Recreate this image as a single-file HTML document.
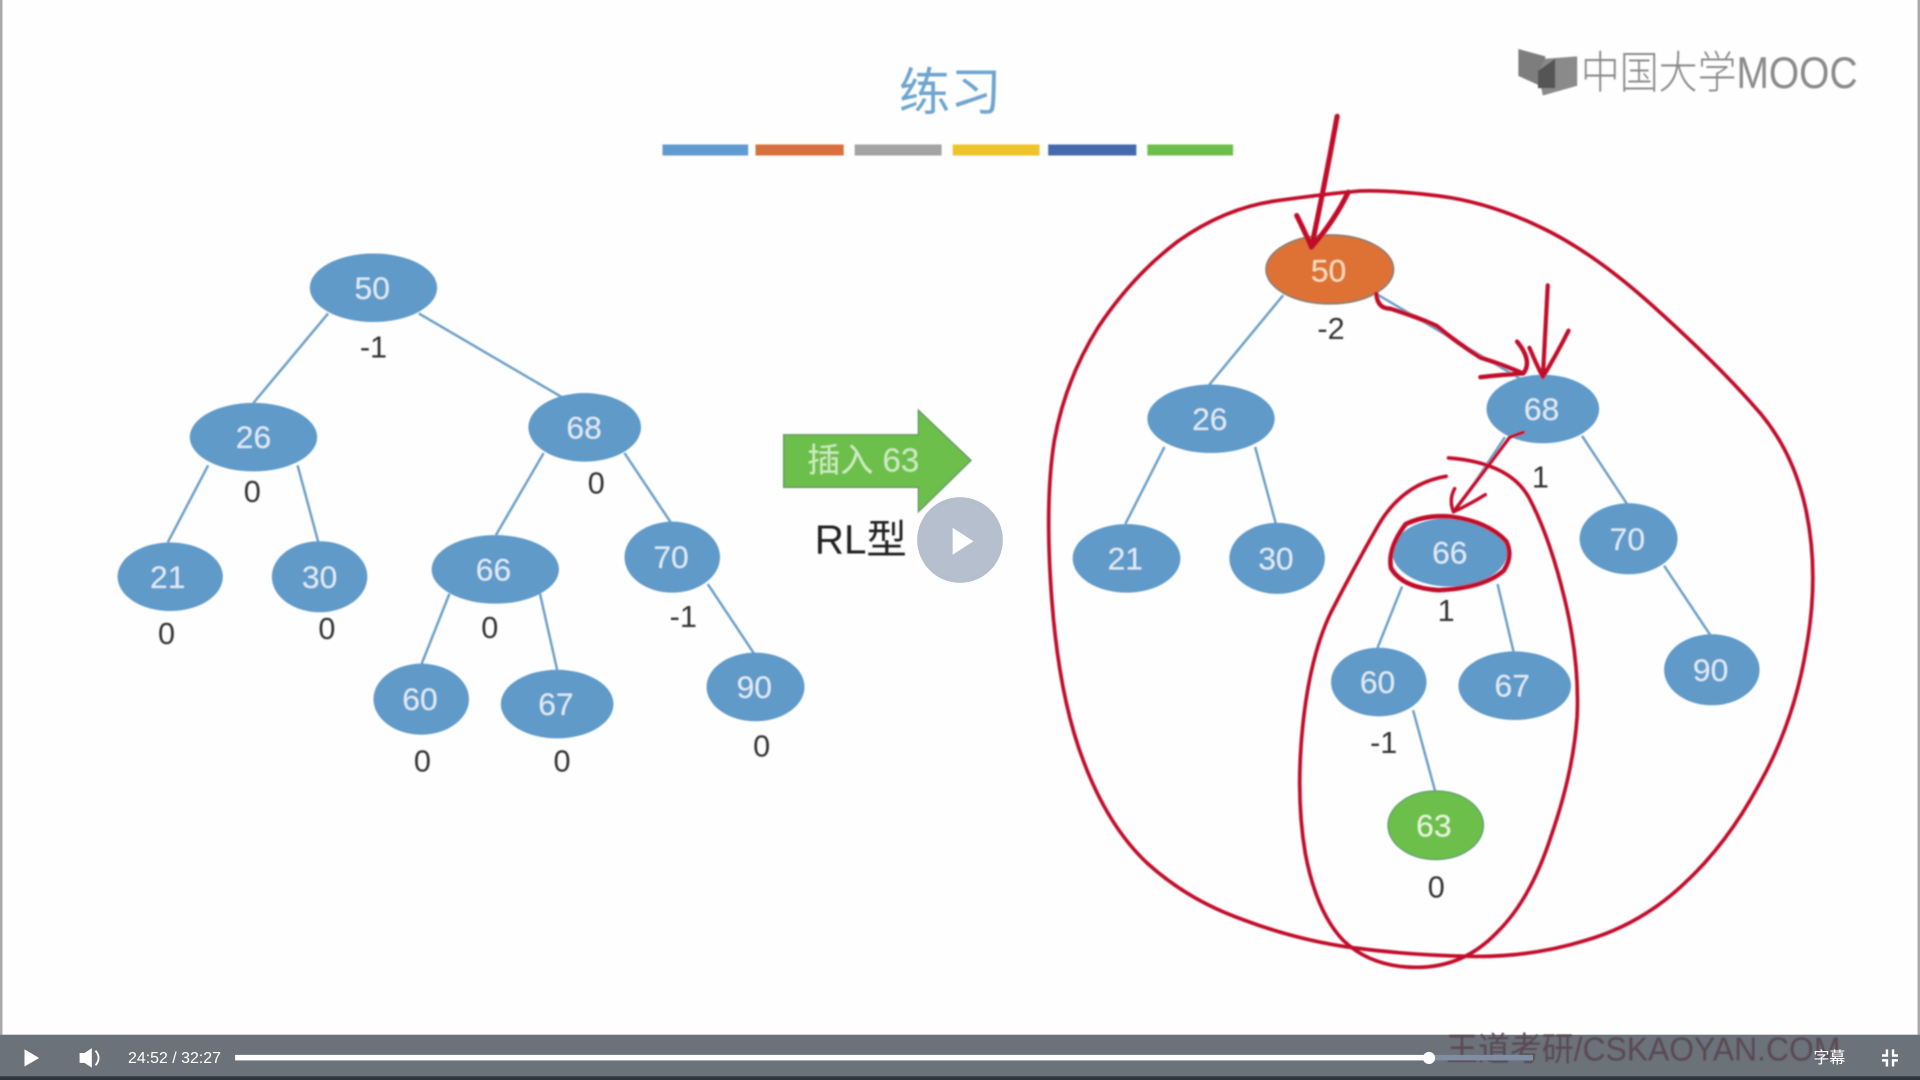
<!DOCTYPE html>
<html><head><meta charset="utf-8"><style>
html,body{margin:0;padding:0;background:#fff;width:1920px;height:1080px;overflow:hidden}
svg{display:block}
text{font-family:"Liberation Sans","Noto Sans CJK SC",sans-serif;text-anchor:middle}
.n{fill:#dfeaf5;font-size:26px}
.l{fill:#333;font-size:25px}
.e{fill:#5f9ac9}
.c{stroke:#6a9fc8;stroke-width:2;fill:none}
.r{fill:none;stroke:#c20c2c;stroke-width:3;stroke-linecap:round;stroke-linejoin:round}
</style></head><body>
<svg width="1920" height="1080" viewBox="0 0 1568 882" xmlns="http://www.w3.org/2000/svg">
<defs><filter id="b" x="-5%" y="-5%" width="110%" height="110%"><feGaussianBlur stdDeviation="0.7"/></filter></defs>
<rect width="1568" height="882" fill="#fefefe"/>
<rect x="0" y="0" width="2" height="845" fill="#a8a8a8"/>
<rect x="1566" y="0" width="2" height="845" fill="#a8a8a8"/>
<g filter="url(#b)">
<text x="776" y="90" style="font-size:42px;fill:#6ea5d0">练习</text>
<rect x="541" y="118" width="70" height="9" fill="#5f9bcf"/>
<rect x="617" y="118" width="72" height="9" fill="#d6703c"/>
<rect x="698" y="118" width="71" height="9" fill="#a3a3a3"/>
<rect x="778" y="118" width="71" height="9" fill="#eec42c"/>
<rect x="856" y="118" width="72" height="9" fill="#4569ae"/>
<rect x="937" y="118" width="70" height="9" fill="#6cbf4b"/>

<polygon points="1240,40 1262,46 1262,72 1240,62" fill="#7d7d7d"/>
<polygon points="1288,46 1288,70 1260,78 1256,60 1262,48" fill="#8a8a8a"/>
<polygon points="1256,58 1270,48 1270,72 1256,72" fill="#555"/>
<text x="1404" y="72" textLength="226" lengthAdjust="spacingAndGlyphs" style="font-size:36px;fill:#8a8a8a;font-weight:300">中国大学MOOC</text>

<!-- left tree connectors -->
<g class="c">
<line x1="268" y1="256" x2="207" y2="329"/><line x1="342" y1="256" x2="460" y2="325"/>
<line x1="170" y1="380" x2="137" y2="443"/><line x1="243" y1="380" x2="260" y2="443"/>
<line x1="444" y1="370" x2="405" y2="437"/><line x1="510" y1="370" x2="548" y2="427"/>
<line x1="367" y1="485" x2="344" y2="543"/><line x1="441" y1="485" x2="455" y2="547"/>
<line x1="578" y1="477" x2="616" y2="534"/>
<!-- right tree connectors -->
<line x1="1048" y1="241" x2="987" y2="315"/><line x1="1124" y1="240" x2="1241" y2="309"/>
<line x1="951" y1="365" x2="919" y2="428"/><line x1="1025" y1="365" x2="1042" y2="428"/>
<line x1="1229" y1="357" x2="1191" y2="414"/><line x1="1292" y1="356" x2="1329" y2="412"/>
<line x1="1145" y1="479" x2="1125" y2="529"/><line x1="1223" y1="477" x2="1236" y2="532"/>
<line x1="1359" y1="462" x2="1397" y2="519"/><line x1="1154" y1="580" x2="1172" y2="646"/>
</g>

<!-- left tree -->
<ellipse class="e" cx="305" cy="235" rx="52" ry="28"/><text class="n" x="304" y="244">50</text>
<ellipse class="e" cx="207" cy="357" rx="52" ry="28"/><text class="n" x="207" y="366">26</text>
<ellipse class="e" cx="477.5" cy="349" rx="46" ry="28"/><text class="n" x="477" y="358">68</text>
<ellipse class="e" cx="139" cy="471" rx="43" ry="28"/><text class="n" x="137" y="480">21</text>
<ellipse class="e" cx="261" cy="471" rx="39" ry="29"/><text class="n" x="261" y="480">30</text>
<ellipse class="e" cx="404.5" cy="465" rx="52" ry="28"/><text class="n" x="403" y="474">66</text>
<ellipse class="e" cx="549" cy="455" rx="39" ry="29"/><text class="n" x="548" y="464">70</text>
<ellipse class="e" cx="344" cy="571" rx="39" ry="29"/><text class="n" x="343" y="580">60</text>
<ellipse class="e" cx="455" cy="575" rx="46" ry="28"/><text class="n" x="454" y="584">67</text>
<ellipse class="e" cx="617" cy="561" rx="40" ry="28"/><text class="n" x="616" y="570">90</text>
<g class="l">
<text x="305" y="292">-1</text><text x="206" y="410">0</text><text x="487" y="403">0</text>
<text x="136" y="526">0</text><text x="267" y="522">0</text><text x="400" y="521">0</text>
<text x="558" y="512">-1</text><text x="345" y="630">0</text><text x="459" y="630">0</text><text x="622" y="618">0</text>
</g>

<!-- arrow -->
<polygon points="640,355 750,355 750,335 793,376 750,418 750,398 640,398" fill="#6cbf4b" stroke="#5e8f5c" stroke-width="1"/>
<text x="705" y="385" style="font-size:27px;fill:#cdebbd">插入 63</text>
<text x="703" y="452" style="font-size:33px;fill:#222">RL型</text>

<!-- right tree -->
<ellipse cx="1086" cy="220" rx="52" ry="28" fill="#de7236" stroke="#8f7b6a" stroke-width="1.5"/><text x="1085" y="230" style="font-size:26px;fill:#fbdcb9">50</text>
<ellipse class="e" cx="989" cy="342" rx="52" ry="28"/><text class="n" x="988" y="351">26</text>
<ellipse class="e" cx="1260" cy="334" rx="46" ry="28"/><text class="n" x="1259" y="343">68</text>
<ellipse class="e" cx="920" cy="456" rx="44" ry="28"/><text class="n" x="919" y="465">21</text>
<ellipse class="e" cx="1043" cy="456" rx="39" ry="29"/><text class="n" x="1042" y="465">30</text>
<ellipse class="e" cx="1184" cy="451" rx="47" ry="28"/><text class="n" x="1184" y="460">66</text>
<ellipse class="e" cx="1330" cy="440" rx="40" ry="29"/><text class="n" x="1329" y="449">70</text>
<ellipse class="e" cx="1126" cy="557" rx="39" ry="28"/><text class="n" x="1125" y="566">60</text>
<ellipse class="e" cx="1237" cy="560" rx="46" ry="28"/><text class="n" x="1235" y="569">67</text>
<ellipse class="e" cx="1398" cy="547" rx="39" ry="29"/><text class="n" x="1397" y="556">90</text>
<ellipse cx="1172.5" cy="674" rx="39" ry="28" fill="#6cbf4b" stroke="#5e9a70" stroke-width="1"/><text x="1171" y="683" style="font-size:26px;fill:#e6f5d8">63</text>
<g class="l">
<text x="1087" y="277">-2</text><text x="1258" y="398">1</text><text x="1181" y="507">1</text>
<text x="1130" y="615">-1</text><text x="1173" y="733">0</text>
</g>

<!-- red ink -->
<path class="r" d="M1042,164 Q1000,170 962,197 Q925,225 897,267 Q870,310 861,360 Q853,410 859,490 Q865,570 885,622 Q905,675 937,705 Q970,735 1015,751 Q1060,768 1105,774 Q1150,780 1200,781 Q1250,782 1295,768 Q1340,755 1375,722 Q1410,690 1437,640 Q1465,590 1475,530 Q1486,470 1475,417 Q1464,365 1431,330 Q1400,295 1350,250 Q1300,205 1257,185 Q1215,165 1175,160 Q1135,155 1110,156 Q1085,158 1042,164"/>
<path class="r" d="M1183,374 Q1235,378 1250,409 Q1266,440 1278,490 Q1290,540 1288,585 Q1285,630 1267,682 Q1250,735 1222,762 Q1195,790 1157,790 Q1120,790 1097,768 Q1075,745 1066,697 Q1058,650 1064,592 Q1070,535 1087,500 Q1105,465 1125,430 Q1145,395 1181,389"/>
<path class="r" style="stroke-width:3.8" d="M1148,428 Q1165,420 1185,422 Q1215,426 1230,442 Q1236,454 1228,466 Q1212,480 1175,482 Q1145,480 1136,464 Q1133,448 1148,428"/>
<path class="r" style="stroke-width:4.2" d="M1092,95 Q1082,150 1071,202 M1059,176 Q1066,190 1071,202 Q1090,180 1101,157"/>
<path class="r" style="stroke-width:3.6" d="M1124,240 Q1125,252 1135,252 Q1155,258 1173,266 Q1190,280 1209,292 Q1228,298 1244,305 M1209,308 Q1228,306 1244,305 Q1252,295 1239,279"/>
<path class="r" style="stroke-width:3.4" d="M1264,233 Q1262,270 1260,308 M1249,284 Q1254,296 1260,308 Q1272,288 1281,270"/>
<path class="r" style="stroke-width:2.8" d="M1244,353 L1233,357 L1187,418 M1188,399 Q1183,408 1187,418 Q1200,412 1213,404"/>
</g>

<!-- play overlay -->
<circle cx="784" cy="441" r="35" fill="#b5bfce"/>
<polygon points="778,431 795,442 778,453" fill="#fff"/>

<!-- control bar -->
<rect x="0" y="845" width="1568" height="37" fill="#6b727a"/>
<rect x="0" y="879" width="1568" height="3" fill="#2e353c"/>
<text x="1342" y="866" textLength="322" lengthAdjust="spacingAndGlyphs" style="font-size:27px;fill:#5a4a52" filter="url(#b)">王道考研/CSKAOYAN.COM</text>
<rect x="1167" y="861.5" width="85" height="4.5" fill="#7f8ea3"/>
<rect x="192" y="861.5" width="975" height="4.5" fill="#fff"/>
<circle cx="1167" cy="864" r="5" fill="#fff"/>
<polygon points="20,857 32,864 20,871" fill="#fff"/>
<polygon points="65,860 69,860 75,856 75,872 69,868 65,868" fill="#fff"/>
<path d="M78,858 Q83,864 78,870" fill="none" stroke="#fff" stroke-width="1.5"/>
<text x="142.5" y="868" style="font-size:13px;fill:#fff">24:52 / 32:27</text>
<text x="1494" y="868" style="font-size:13px;fill:#fff">字幕</text>
<path d="M1541,857 V862 H1537 M1546,857 V862 H1550 M1541,871 V866 H1537 M1546,871 V866 H1550" fill="none" stroke="#fff" stroke-width="2"/>
</svg>
</body></html>
